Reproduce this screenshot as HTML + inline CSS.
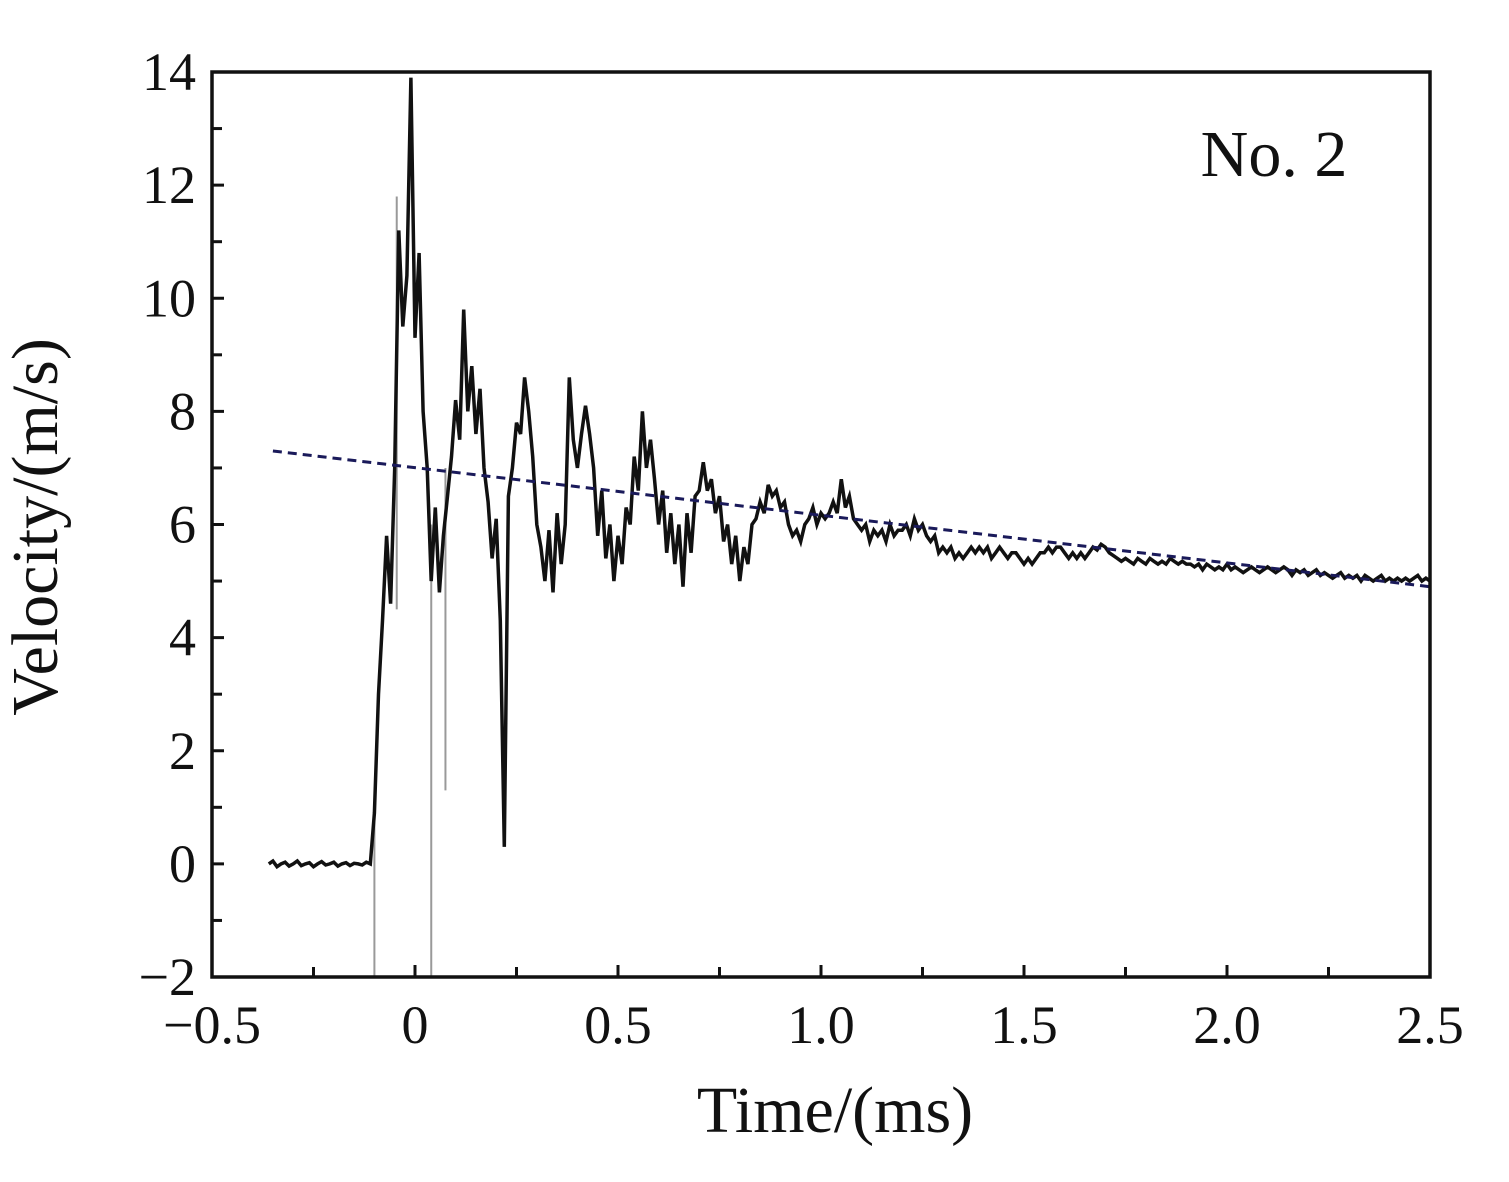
<!DOCTYPE html>
<html><head><meta charset="utf-8"><style>
body{margin:0;background:#fff}
svg text{font-family:"Liberation Serif",serif;fill:#111}
</style></head><body>
<svg id="c" width="1509" height="1177" xmlns="http://www.w3.org/2000/svg"></svg>
<script>
const xTicks=[-0.5,0,0.5,1.0,1.5,2.0,2.5];
const xTickLabels=["\u22120.5","0","0.5","1.0","1.5","2.0","2.5"];
const yTicks=[-2,0,2,4,6,8,10,12,14];
const yTickLabels=["\u22122","0","2","4","6","8","10","12","14"];
const tStart=-0.36, tStep=0.01;
const velocity=[0,0.05,-0.05,0,0.03,-0.04,0,0.05,-0.03,0,0.02,-0.05,0,0.04,-0.02,0,0.03,-0.04,0,0.02,-0.03,0.01,0,-0.02,0.03,0,
0.9,3.0,4.3,5.8,4.6,7.0,11.2,9.5,10.4,13.9,9.3,10.8,8.0,7.0,5.0,6.3,4.8,5.8,6.5,7.2,8.2,7.5,9.8,8.0,8.8,7.6,8.4,7.0,6.4,5.4,6.1,4.3,0.3,6.5,7.0,7.8,7.6,8.6,8.0,7.2,6.0,5.6,5.0,5.9,4.8,6.2,5.3,6.0,8.6,7.5,7.0,7.6,8.1,7.6,7.0,5.8,6.6,5.4,6.0,5.0,5.8,5.3,6.3,6.0,7.2,6.6,8.0,7.0,7.5,6.8,6.0,6.6,5.5,6.2,5.3,6.0,4.9,6.2,5.5,6.5,6.6,7.1,6.6,6.8,6.2,6.5,5.7,6.0,5.3,5.8,5.0,5.6,5.3,6.0,6.1,6.4,6.2,6.7,6.5,6.6,6.3,6.4,6.0,5.8,5.9,5.7,6.0,6.1,6.3,6.0,6.2,6.1,6.2,6.4,6.2,6.8,6.3,6.5,6.1,6.0,5.9,6.0,5.7,5.9,5.8,5.9,5.7,6.0,5.8,5.9,5.9,6.0,5.8,6.1,5.9,6.0,5.8,5.7,5.8,5.5,5.6,
5.5,5.6,5.4,5.5,5.4,5.5,5.6,5.5,5.6,5.5,5.6,5.4,5.5,5.6,5.5,5.4,5.5,5.5,5.4,5.3,5.4,5.3,5.4,5.5,5.5,5.6,5.5,5.6,5.6,5.5,5.4,5.5,5.4,5.5,5.4,5.5,5.6,5.55,5.65,5.6,5.5,5.45,5.4,5.35,5.4,5.35,5.3,5.4,5.35,5.3,5.4,5.35,5.3,5.35,5.3,5.4,5.35,5.3,5.35,5.3,5.3,5.25,5.3,5.2,5.3,5.25,5.2,5.25,5.2,5.3,5.2,5.25,5.2,5.15,5.2,5.25,5.2,5.15,5.2,5.25,5.2,5.15,5.2,5.25,5.2,5.1,5.2,5.15,5.2,5.1,5.15,5.2,5.1,5.15,5.1,5.05,5.1,5.15,5.05,5.1,5.05,5.1,5.0,5.1,5.05,5.0,5.05,5.1,5.0,5.05,5.0,5.05,5.0,5.05,5.0,5.05,5.1,5.0,5.05,5.0];
const grayTimes=[-0.1,-0.045,0.04,0.075];
const grayLow=[-2,4.5,-2,1.3];
const grayHigh=[1,11.8,6,7];
const trendT=[-0.35,2.5];
const trendV=[7.3,4.9];
const L=212,R=1430,T=72,B=977,xmin=-0.5,xmax=2.5,ymin=-2,ymax=14;
const X=t=>L+(t-xmin)/(xmax-xmin)*(R-L);
const Y=v=>B-(v-ymin)/(ymax-ymin)*(B-T);
const svg=document.getElementById('c');const NS='http://www.w3.org/2000/svg';
function mk(tag,attrs,parent){const e=document.createElementNS(NS,tag);for(const k in attrs)e.setAttribute(k,attrs[k]);(parent||svg).appendChild(e);return e;}
grayTimes.forEach((t,i)=>{const l=mk('line',{x1:X(t),x2:X(t),y1:Y(grayLow[i]),y2:Y(grayHigh[i]),stroke:'#999','stroke-width':2});

});
let d='';velocity.forEach((v,i)=>{const t=tStart+i*tStep;d+=(i?'L':'M')+X(t).toFixed(1)+' '+Y(v).toFixed(1);});
const p=mk('path',{d:d,fill:'none',stroke:'#111','stroke-width':3.5,'stroke-linejoin':'miter'});


const tl=mk('line',{x1:X(trendT[0]),y1:Y(trendV[0]),x2:X(trendT[1]),y2:Y(trendV[1]),stroke:'#1a1a5a','stroke-width':3,'stroke-dasharray':'9 6'});


const fr=mk('rect',{x:L,y:T,width:R-L,height:B-T,fill:'none',stroke:'#111','stroke-width':3.5});


for(let t=-0.5;t<=2.5001;t+=0.25){const m=Math.abs(t*2-Math.round(t*2))<1e-6;const tk=mk('line',{x1:X(t),x2:X(t),y1:B,y2:B-(m?12:10),stroke:'#111','stroke-width':3});

}
xTicks.forEach((t,i)=>{const tx=mk('text',{x:X(t),y:1043,'text-anchor':'middle','font-size':54});tx.textContent=xTickLabels[i];

});
for(let v=-2;v<=14;v+=1){const tk=mk('line',{x1:L,x2:L+(v%2===0?12:10),y1:Y(v),y2:Y(v),stroke:'#111','stroke-width':3});

}
yTicks.forEach((v,i)=>{const tx=mk('text',{x:196,y:Y(v)+18,'text-anchor':'end','font-size':54});tx.textContent=yTickLabels[i];

});
const xt=mk('text',{x:835,y:1132,'text-anchor':'middle','font-size':66});xt.textContent='Time/(ms)';


const yt=mk('text',{x:0,y:0,'text-anchor':'middle','font-size':66,transform:'translate(57,527) rotate(-90)'});yt.textContent='Velocity/(m/s)';


const lb=mk('text',{x:1274,y:176,'text-anchor':'middle','font-size':66});lb.textContent='No. 2';


</script>
</body></html>
